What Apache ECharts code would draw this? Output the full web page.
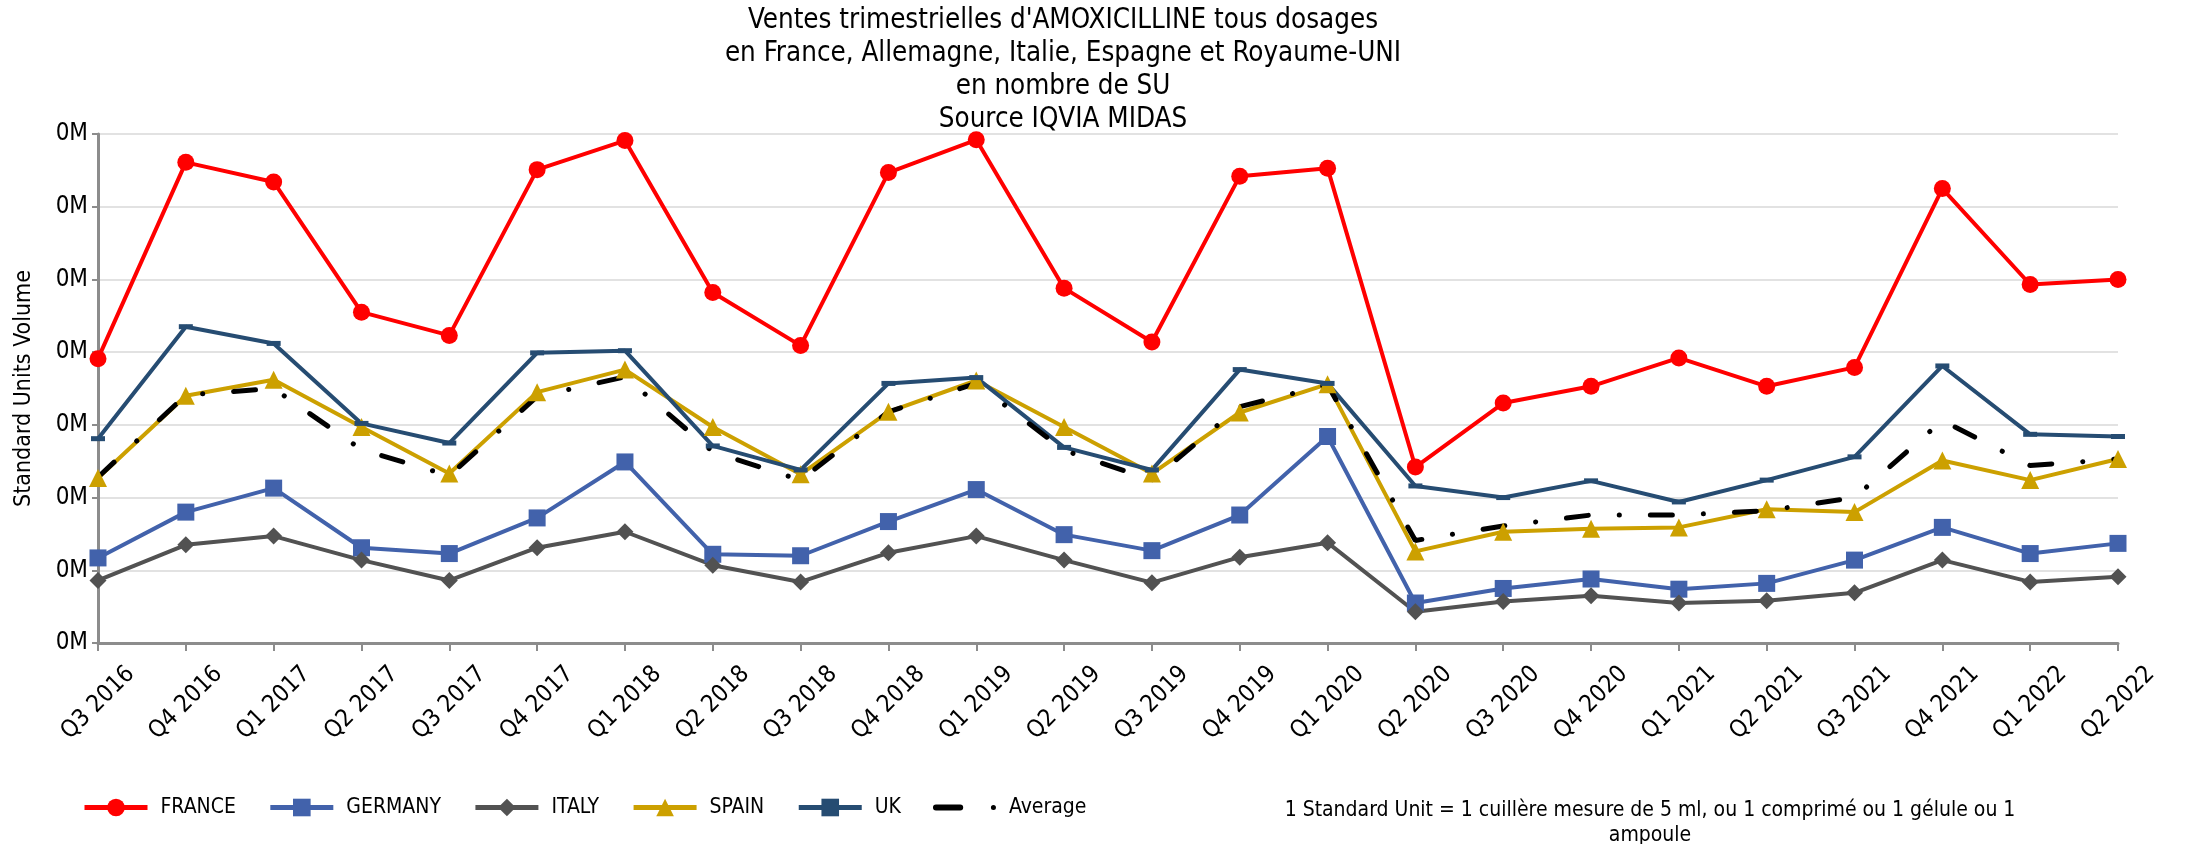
<!DOCTYPE html>
<html>
<head>
<meta charset="utf-8">
<title>Ventes trimestrielles d'AMOXICILLINE</title>
<script src="https://cdn.jsdelivr.net/npm/echarts@6/dist/echarts.min.js"></script>
<style>
  html, body { margin: 0; padding: 0; background: #fff; }
  #chart { width: 2187px; height: 844px; }
</style>
</head>
<body>
<div id="chart"></div>
<script>
// trimestres
const quarters = ['Q3 2016', 'Q4 2016', 'Q1 2017', 'Q2 2017', 'Q3 2017', 'Q4 2017',
  'Q1 2018', 'Q2 2018', 'Q3 2018', 'Q4 2018', 'Q1 2019', 'Q2 2019',
  'Q3 2019', 'Q4 2019', 'Q1 2020', 'Q2 2020', 'Q3 2020', 'Q4 2020',
  'Q1 2021', 'Q2 2021', 'Q3 2021', 'Q4 2021', 'Q1 2022', 'Q2 2022']

// volumes (une graduation = 10)
const france = [39.1, 66.1, 63.4, 45.5, 42.3, 65.1, 69.1, 48.2, 40.9, 64.7, 69.2, 48.8,
  41.4, 64.2, 65.3, 24.2, 33.0, 35.3, 39.2, 35.3, 37.9, 62.5, 49.3, 50.0]
const germany = [11.7, 18.0, 21.3, 13.1, 12.3, 17.2, 24.9, 12.2, 12.0, 16.7, 21.1, 14.9,
  12.7, 17.6, 28.4, 5.5, 7.5, 8.8, 7.4, 8.2, 11.4, 15.9, 12.3, 13.7]
const italy = [8.6, 13.5, 14.7, 11.4, 8.6, 13.1, 15.3, 10.7, 8.4, 12.4, 14.7, 11.4,
  8.3, 11.8, 13.8, 4.3, 5.7, 6.5, 5.5, 5.8, 6.9, 11.4, 8.4, 9.1]
const spain = [22.7, 34.0, 36.2, 29.7, 23.3, 34.5, 37.6, 29.7, 23.2, 31.8, 36.1, 29.7,
  23.3, 31.7, 35.6, 12.6, 15.3, 15.7, 15.9, 18.4, 18.0, 25.1, 22.4, 25.3]
const uk = [28.1, 43.5, 41.2, 30.2, 27.5, 39.9, 40.2, 27.1, 23.8, 35.7, 36.5, 26.9,
  23.8, 37.6, 35.7, 21.6, 20.0, 22.3, 19.4, 22.4, 25.6, 38.1, 28.7, 28.4]
const average = [22.8, 34.1, 35.0, 26.6, 23.0, 33.9, 36.6, 26.3, 22.4, 31.8, 35.7, 26.5,
  22.4, 32.5, 35.5, 14.1, 16.1, 17.6, 17.6, 18.2, 20.0, 30.6, 24.4, 25.3]

const FONT = '"DejaVu Sans Condensed", "DejaVu Sans", sans-serif'

// petit trait horizontal (marqueur UK) et icone tiret-point (Average)
const UK_BAR = 'path://M0,0 H14 V5 H0 Z'
const DASH_DOT = 'path://M3,0 H27 A3,3 0 0 1 27,6 H3 A3,3 0 0 1 3,0 Z M60,0.5 A2.5,2.5 0 1 1 60,5.5 A2.5,2.5 0 1 1 60,0.5 Z'

const chart = echarts.init(document.getElementById('chart'))

const countryLine = (name, data, color, symbol, symbolSize) => ({
  name,
  type: 'line',
  data,
  symbol,
  symbolSize,
  symbolKeepAspect: true,
  showAllSymbol: true,
  lineStyle: { color, width: 4 },
  itemStyle: { color },
  emphasis: { disabled: true }
})

chart.setOption({
  animation: false,
  textStyle: { fontFamily: FONT },
  graphic: [
    {
      type: 'text',
      x: 1063,
      y: 4,
      style: {
        text: "Ventes trimestrielles d'AMOXICILLINE tous dosages\nen France, Allemagne, Italie, Espagne et Royaume-UNI\nen nombre de SU\nSource IQVIA MIDAS",
        align: 'center',
        verticalAlign: 'top',
        fontFamily: FONT,
        fontSize: 27.5,
        lineHeight: 33,
        fill: '#000'
      }
    },
    {
      type: 'text',
      x: 1650,
      y: 798,
      style: {
        text: '1 Standard Unit = 1 cuillère mesure de 5 ml, ou 1 comprimé ou 1 gélule ou 1\nampoule',
        align: 'center',
        verticalAlign: 'top',
        fontFamily: FONT,
        fontSize: 21,
        lineHeight: 25,
        fill: '#000'
      }
    }
  ],
  legend: {
    left: 82,
    top: 797,
    padding: 0,
    itemWidth: 63,
    itemHeight: 22,
    itemGap: 32,
    lineStyle: { width: 5 },
    textStyle: { fontFamily: FONT, fontSize: 21, color: '#000', padding: [0, 0, 0, 8] },
    data: ['FRANCE', 'GERMANY', 'ITALY', 'SPAIN', 'UK', { name: 'Average', icon: DASH_DOT }]
  },
  grid: { left: 98, right: 69, top: 134, bottom: 201, containLabel: false },
  xAxis: {
    type: 'category',
    data: quarters,
    boundaryGap: false,
    axisLine: { lineStyle: { color: '#8c8c8c', width: 3 } },
    axisTick: { show: true, length: 8, lineStyle: { color: '#8c8c8c', width: 2 } },
    axisLabel: {
      rotate: 45,
      align: 'center',
      verticalAlign: 'middle',
      margin: 60,
      interval: 0,
      fontFamily: FONT,
      fontSize: 24,
      color: '#000'
    },
    splitLine: { show: false }
  },
  yAxis: {
    type: 'value',
    min: 0,
    max: 70,
    interval: 10,
    name: 'Standard Units Volume',
    nameLocation: 'middle',
    nameGap: 62,
    nameTextStyle: { fontFamily: FONT, fontSize: 23, color: '#000' },
    axisLine: { show: true, lineStyle: { color: '#8c8c8c', width: 3 } },
    axisTick: { show: true, length: 6, lineStyle: { color: '#8c8c8c', width: 2 } },
    axisLabel: {
      margin: 10,
      fontFamily: FONT,
      fontSize: 24,
      color: '#000',
      formatter: v => (v / 1e6).toFixed(0) + 'M'
    },
    splitLine: { lineStyle: { color: '#d9d9d9', width: 1.5 } }
  },
  series: [
    countryLine('FRANCE', france, '#ff0000', 'circle', 17),
    countryLine('GERMANY', germany, '#4262ab', 'rect', 17),
    countryLine('ITALY', italy, '#525252', 'diamond', 17),
    countryLine('SPAIN', spain, '#cca000', 'triangle', 18),
    countryLine('UK', uk, '#264c72', UK_BAR, 14),
    {
      name: 'Average',
      type: 'line',
      data: average,
      symbol: 'none',
      lineStyle: { color: '#000', width: 5, type: [22, 31, 0.1, 31], cap: 'round' },
      itemStyle: { color: '#000' },
      emphasis: { disabled: true }
    }
  ]
})
</script>
</body>
</html>
